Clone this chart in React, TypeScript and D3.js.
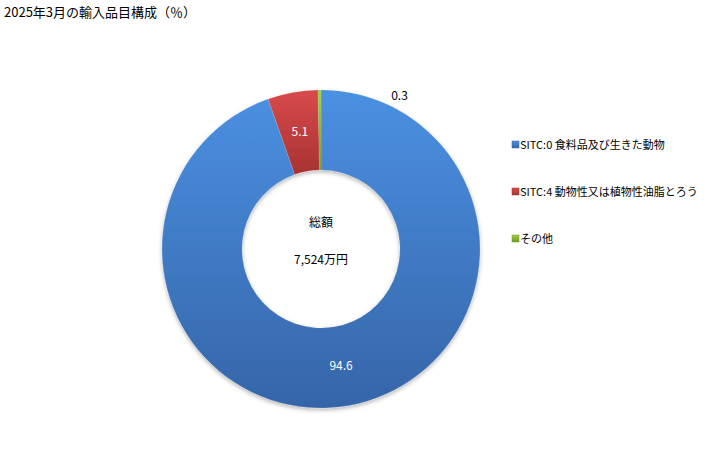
import React from 'react';
import * as d3 from 'd3';

const title = '2025年3月の輸入品目構成（％）';
const categories = ['SITC:0 食料品及び生きた動物', 'SITC:4 動物性又は植物性油脂とろう', 'その他'];
const values = [94.6, 5.1, 0.3];
const colorsTop = ['#4b90e2', '#d84a4a', '#9fd040'];
const colorsBottom = ['#3565a8', '#a83232', '#6f9a22'];
const totalLabel = '総額';
const totalValue = '7,524万円';

const W = 728;
const H = 450;
const cx = 321;
const cy = 249;
const outerR = 159;
const innerR = 79;
const font = '"Noto Sans CJK JP", "Noto Sans", sans-serif';

const App = () => {
  const pie = d3.pie<number>().sort(null).value((d) => d);
  const arcs = pie(values);
  const arc = d3.arc<d3.PieArcDatum<number>>().innerRadius(innerR).outerRadius(outerR);
  const edgeArc = d3.arc<d3.PieArcDatum<number>>().innerRadius(outerR).outerRadius(outerR);

  return (
    <svg width={W} height={H} style={{ position: 'absolute', left: 0, top: 0, background: '#fff' }}>
      <defs>
        {values.map((_, i) => (
          <linearGradient key={i} id={`g${i}`} x1="0" y1="0" x2="0" y2="1">
            <stop offset="0%" stopColor={colorsTop[i]} />
            <stop offset="100%" stopColor={colorsBottom[i]} />
          </linearGradient>
        ))}
        <filter id="shadow" x="-20%" y="-20%" width="140%" height="140%">
          <feDropShadow dx="0" dy="2" stdDeviation="2" floodColor="#000" floodOpacity="0.3" />
        </filter>
      </defs>
      <text x={4} y={17} fontSize={13} fontFamily={font} fill="#000">{title}</text>
      <g transform={`translate(${cx},${cy})`}>
        <g filter="url(#shadow)">
          {arcs.map((a, i) => (
            <path key={i} d={arc(a) || ''} fill={`url(#g${i})`} stroke="#ffffff" strokeOpacity={0.25} strokeWidth={0.5} />
          ))}
        </g>
        {arcs.map((a, i) => {
          // the smallest slice gets its label outside, up and to the right
          if (i === 2) {
            const [x, y] = edgeArc.centroid(a);
            return (
              <text key={i} x={x + 80} y={y + 10} fontSize={12} fontFamily={font} fill="#000" textAnchor="middle">
                {values[i].toFixed(1)}
              </text>
            );
          }
          const [x, y] = arc.centroid(a);
          return (
            <text key={i} x={x} y={y + 4} fontSize={12} fontFamily={font} fill="#fff" textAnchor="middle">
              {values[i].toFixed(1)}
            </text>
          );
        })}
        <text x={0} y={-22} fontSize={12} fontFamily={font} fill="#000" textAnchor="middle">{totalLabel}</text>
        <text x={0} y={15} fontSize={12} fontFamily={font} fill="#000" textAnchor="middle">{totalValue}</text>
      </g>
      {categories.map((c, i) => (
        <g key={i} transform={`translate(512,${145 + i * 47})`}>
          <rect x={0} y={-4} width={7} height={7} fill={`url(#g${i})`} stroke={colorsBottom[i]} strokeWidth={0.5} />
          <text x={8} y={4} fontSize={11} fontFamily={font} fill="#000">{c}</text>
        </g>
      ))}
    </svg>
  );
};

export default App;
